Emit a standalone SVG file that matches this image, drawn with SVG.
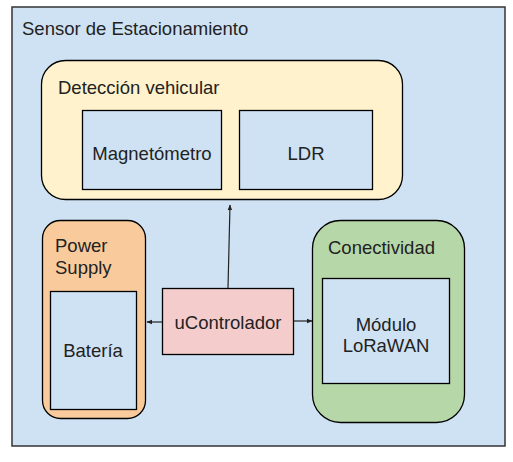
<svg xmlns="http://www.w3.org/2000/svg" width="513" height="462" viewBox="0 0 513 462">
<style>
text{font-family:"Liberation Sans",Arial,sans-serif;font-size:18.5px;fill:#222}
.c{text-anchor:middle}
.b{stroke:#000;stroke-width:1.3}
.cn{stroke:#222;stroke-width:1.2;fill:none}
</style>
<defs>
<marker id="ah" viewBox="0 0 10 10" refX="9" refY="5" markerWidth="6" markerHeight="6" orient="auto" markerUnits="userSpaceOnUse">
<path d="M0,1 L10,5 L0,9 z" fill="#222"/>
</marker>
</defs>
<rect width="513" height="462" fill="#fff"/>
<g id="sensor">
<rect x="12" y="7" width="493" height="439" fill="#cfe2f3" stroke="#333" stroke-width="1.5"/>
<text x="22" y="35">Sensor de Estacionamiento</text>
</g>
<g id="deteccion">
<rect x="41.5" y="60.5" width="361" height="139" rx="24" fill="#fff2cc" class="b"/>
<text x="58" y="94">Detección vehicular</text>
</g>
<g id="magnetometro">
<rect x="82.5" y="110.5" width="139" height="79" fill="#cfe2f3" class="b"/>
<text x="152" y="160" class="c">Magnetómetro</text>
</g>
<g id="ldr">
<rect x="239.5" y="110.5" width="133" height="79" fill="#cfe2f3" class="b"/>
<text x="306" y="160" class="c">LDR</text>
</g>
<g id="power">
<rect x="42.5" y="220.5" width="103" height="198" rx="18" fill="#f9cb9c" class="b"/>
<text x="55" y="252">Power</text>
<text x="55" y="274">Supply</text>
</g>
<g id="bateria">
<rect x="50.5" y="291.5" width="86" height="118" fill="#cfe2f3" class="b"/>
<text x="93" y="357" class="c">Batería</text>
</g>
<g id="conectividad">
<rect x="312.5" y="220.5" width="152" height="202" rx="28" fill="#b6d7a8" class="b"/>
<text x="328" y="254">Conectividad</text>
</g>
<g id="lorawan">
<rect x="322.5" y="278.5" width="127" height="105" fill="#cfe2f3" class="b"/>
<text x="386" y="331" class="c">Módulo</text>
<text x="386" y="352" class="c">LoRaWAN</text>
</g>
<g id="ucontrolador">
<rect x="162.5" y="288.5" width="131" height="66" fill="#f4cccc" class="b"/>
<text x="228" y="329" class="c">uControlador</text>
</g>
<g id="connectors">
<line x1="228" y1="288" x2="230" y2="205" class="cn" marker-end="url(#ah)"/>
<line x1="162" y1="322" x2="147" y2="322" class="cn" marker-end="url(#ah)"/>
<line x1="294" y1="321" x2="312" y2="321" class="cn" marker-end="url(#ah)"/>
</g>
</svg>
